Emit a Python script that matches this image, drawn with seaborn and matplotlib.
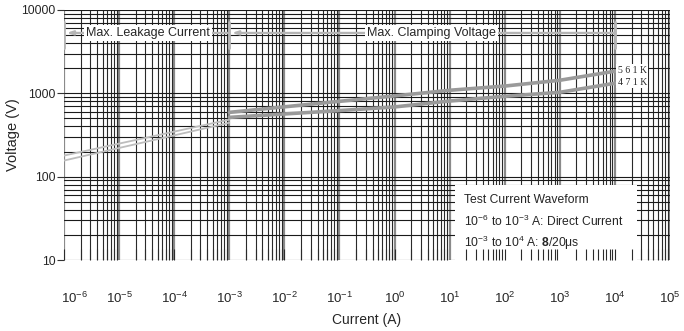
import numpy as np
import pandas as pd
import matplotlib
matplotlib.use("Agg")
import matplotlib.pyplot as plt
import matplotlib.ticker as mticker
from matplotlib.patches import Rectangle
from matplotlib.transforms import ScaledTranslation
import seaborn as sns

# Leakage region (DC), light thin lines
leak_current = [1e-6, 1e-3]
leak_561k = [179, 483]
leak_471k = [156, 443]

# Clamping region (8/20us), thicker darker lines
clamp_current = [1e-3, 1e-2, 1e-1, 1e0, 1e1, 1e2, 1e3, 1e4]
clamp_561k = [590, 688, 801, 930, 1087, 1221, 1434, 1841]
clamp_471k = [514, 565, 620, 686, 808, 920, 1028, 1320]

parts = ["561 K", "471 K"]
leak_range = (1e-6, 1e-3)
clamp_range = (1e-3, 1e4)
marker_v = 5300
x_exponents = list(range(-6, 6))

sns.set_style("white")
plt.rcParams["font.family"] = ["Liberation Sans", "DejaVu Sans"]
plt.rcParams["mathtext.fontset"] = "custom"
plt.rcParams["mathtext.rm"] = "Liberation Sans"
plt.rcParams["mathtext.bf"] = "Liberation Sans:bold"

fig = plt.figure(figsize=(6.84, 3.31), dpi=100)
ax = fig.add_axes([0.0936, 0.2145, 0.886, 0.7555])
ax.set_xscale("log")
ax.set_yscale("log")
ax.set_xlim(1e-6, 1e5)
ax.set_ylim(10, 10000)

# grid
ax.set_axisbelow(True)
ax.set_xticks([10.0 ** e for e in x_exponents],
              [f"$10^{{{e}}}$" for e in x_exponents])
ax.xaxis.set_minor_locator(mticker.LogLocator(base=10, subs=np.arange(2, 10), numticks=20))
ax.yaxis.set_major_locator(mticker.FixedLocator([10, 100, 1000, 10000]))
ax.yaxis.set_minor_locator(mticker.LogLocator(base=10, subs=np.arange(2, 10), numticks=20))
ax.grid(which="major", axis="x", color="#8a8a8a", lw=1.6)
ax.grid(which="minor", axis="x", color="#2a2a2a", lw=0.8)
ax.grid(which="both", axis="y", color="#1a1a1a", lw=0.8)

# curves
leak_df = pd.DataFrame({"current": leak_current * 2,
                        "voltage": leak_561k + leak_471k,
                        "part": [parts[0]] * 2 + [parts[1]] * 2})
clamp_df = pd.DataFrame({"current": clamp_current * 2,
                         "voltage": clamp_561k + clamp_471k,
                         "part": [parts[0]] * len(clamp_current) + [parts[1]] * len(clamp_current)})
for p in parts:
    sns.lineplot(data=leak_df[leak_df.part == p], x="current", y="voltage",
                 color="#bdbdbd", lw=1.3, ax=ax, zorder=3)
    sns.lineplot(data=clamp_df[clamp_df.part == p], x="current", y="voltage",
                 color="#9a9a9a", lw=2.6, ax=ax, zorder=3)

# range markers at top
bar_kw = dict(color="#b5b5b5", lw=2.0, zorder=4)
for xv in [leak_range[0], leak_range[1], clamp_range[1]]:
    ax.plot([xv, xv], [3490, 7170], **bar_kw)
arrow_kw = dict(arrowstyle="-|>,head_length=0.35,head_width=0.12", color="#b5b5b5", lw=1.6,
                shrinkA=0, shrinkB=0)
ax.annotate("", xy=(leak_range[0] * 1.12, marker_v), xytext=(leak_range[1], marker_v),
            arrowprops=arrow_kw, zorder=4)
ax.annotate("", xy=(clamp_range[0] * 1.12, marker_v), xytext=(clamp_range[1], marker_v),
            arrowprops=arrow_kw, zorder=4)
box = dict(facecolor="white", edgecolor="none", pad=1.5)
ax.text(10 ** -4.47, marker_v, "Max. Leakage Current", ha="center", va="center",
        fontsize=9, bbox=box, zorder=5)
ax.text(10 ** 0.67, marker_v, "Max. Clamping Voltage", ha="center", va="center",
        fontsize=9, bbox=box, zorder=5)

# part labels
lbl_box = dict(facecolor="white", edgecolor="none", pad=1.0)
ax.text(10 ** 4.05, clamp_561k[-1] * 1.03, "5 6 1 K", family="Liberation Serif", fontsize=7,
        ha="left", va="center", bbox=lbl_box, zorder=5)
ax.text(10 ** 4.05, clamp_471k[-1] * 1.03, "4 7 1 K", family="Liberation Serif", fontsize=7,
        ha="left", va="center", bbox=lbl_box, zorder=5)

# waveform note box
ax.add_patch(Rectangle((0.645, 0.0), 0.3, 0.3, transform=ax.transAxes,
                       facecolor="white", edgecolor="none", zorder=2))
note_kw = dict(transform=ax.transAxes, fontsize=8.7, ha="left", va="center", zorder=5)
ax.text(0.66, 0.24, "Test Current Waveform", **note_kw)
ax.text(0.66, 0.155, "10$^{-6}$ to 10$^{-3}$ A: Direct Current", **note_kw)
ax.text(0.66, 0.07, "10$^{-3}$ to 10$^{4}$ A: $\\mathbf{8}$/20\u03bcs", **note_kw)

# short inward ticks on the bottom (visible through the note box)
tx = ax.twiny()
tx.set_xscale("log")
tx.set_xlim(ax.get_xlim())
tx.xaxis.set_ticks_position("bottom")
tx.xaxis.set_minor_locator(mticker.LogLocator(base=10, subs=np.arange(2, 10), numticks=20))
tx.tick_params(which="both", direction="in", length=8, width=0.8, color="#2a2a2a",
               labelbottom=False, labeltop=False, top=False)
for s in tx.spines.values():
    s.set_visible(False)

ax.yaxis.set_major_formatter(mticker.FuncFormatter(lambda v, _: f"{int(v)}"))
ax.tick_params(axis="x", which="both", length=0, pad=22, labelsize=9.5)
ax.tick_params(axis="y", which="major", length=5, width=0.8, color="#333", direction="out",
               left=True, labelsize=8.7, pad=1)
ax.tick_params(axis="y", which="minor", length=0)
first = ax.get_xticklabels()[0]
first.set_ha("left")
first.set_transform(first.get_transform() + ScaledTranslation(-2 / 72, 0, fig.dpi_scale_trans))
for s in ax.spines.values():
    s.set_visible(False)

ax.set_xlabel("Current (A)", fontsize=10, labelpad=5)
ax.set_ylabel("Voltage (V)", fontsize=10.5)
ax.yaxis.set_label_coords(-0.073, 0.5)

fig.savefig("out.png", dpi=100)
